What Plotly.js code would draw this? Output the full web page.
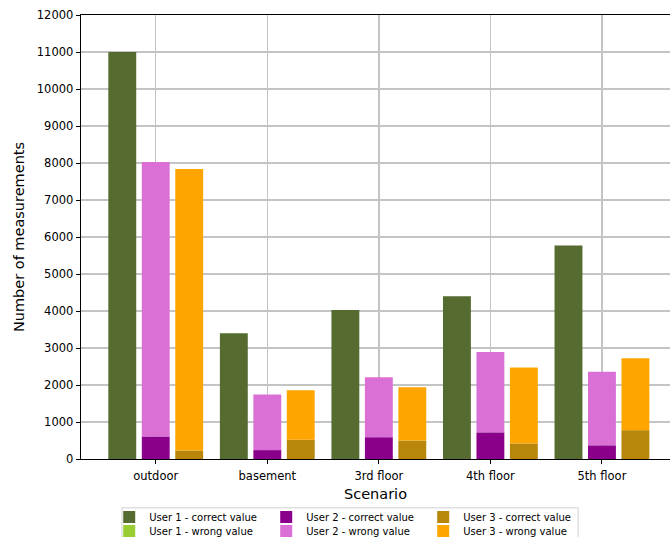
<!DOCTYPE html>
<html>
<head>
<meta charset="utf-8">
<script src="https://cdn.plot.ly/plotly-3.0.1.min.js"></script>
<style>html,body{margin:0;padding:0;overflow:hidden;background:#fff}</style>
</head>
<body>
<div id="chart" style="width:670px;height:537px"></div>
<script>
const scenarios = ["outdoor", "basement", "3rd floor", "4th floor", "5th floor"];
const user1Correct = [11000, 3400, 4030, 4400, 5770];
const user1Wrong   = [0, 0, 0, 0, 0];
const user2Correct = [610, 240, 590, 720, 370];
const user2Wrong   = [7420, 1500, 1620, 2170, 1990];
const user3Correct = [230, 520, 500, 420, 780];
const user3Wrong   = [7610, 1335, 1440, 2050, 1940];

const W = 0.25;
function bar(name, y, base, color, offset, rank, legend) {
  const t = {
    type: "bar", name: name, x: scenarios, y: y,
    width: W, offset: offset,
    marker: {color: color, line: {width: 0}},
    legendrank: rank, legend: legend,
    hoverinfo: "x+y+name"
  };
  if (base) t.base = base;
  return t;
}
const data = [
  bar("User 1 - correct value", user1Correct, null, "#556B2F", -0.425, 1, "legend"),
  bar("User 2 - correct value", user2Correct, null, "#8B008B", -0.125, 2, "legend"),
  bar("User 3 - correct value", user3Correct, null, "#B8860B", 0.175, 3, "legend"),
  bar("User 1 - wrong value", user1Wrong, user1Correct, "#9ACD32", -0.425, 4, "legend2"),
  bar("User 2 - wrong value", user2Wrong, user2Correct, "#DA70D6", -0.125, 5, "legend2"),
  bar("User 3 - wrong value", user3Wrong, user3Correct, "#FFA500", 0.175, 6, "legend2")
];

const legendCommon = {
  orientation: "h",
  xref: "container", x: 0.163, xanchor: "left",
  yref: "container", yanchor: "middle",
  entrywidth: 112, entrywidthmode: "pixels",
  font: {family: "DejaVu Sans", size: 10, color: "#000"},
  borderwidth: 0, bgcolor: "rgba(0,0,0,0)",
  traceorder: "normal", itemwidth: 30
};

const layout = {
  width: 670, height: 537,
  margin: {l: 81, r: 0, t: 15, b: 78},
  barmode: "overlay",
  paper_bgcolor: "#fff", plot_bgcolor: "#fff",
  font: {family: "DejaVu Sans", size: 11.5, color: "#000"},
  showlegend: true,
  xaxis: {
    type: "category", range: [-0.67, 4.61],
    showgrid: true, gridcolor: "#c4c4c4", gridwidth: 1.5,
    showline: true, linecolor: "#000", linewidth: 1.3, mirror: true,
    ticks: "outside", ticklen: 4, tickcolor: "#000", tickwidth: 1,
    ticklabelstandoff: 2,
    tickfont: {family: "DejaVu Sans", size: 11.5, color: "#000"},
    title: {text: "Scenario", font: {family: "DejaVu Sans", size: 14.5, color: "#000"}, standoff: 6},
    zeroline: false
  },
  yaxis: {
    range: [0, 12000], dtick: 1000, tickformat: "d",
    showgrid: true, gridcolor: "#c4c4c4", gridwidth: 1.5,
    showline: true, linecolor: "#000", linewidth: 1.3,
    ticks: "outside", ticklen: 4, tickcolor: "#000", tickwidth: 1,
    tickfont: {family: "DejaVu Sans", size: 11.5, color: "#000"},
    title: {text: "Number of measurements", font: {family: "DejaVu Sans", size: 14.5, color: "#000"}, standoff: 8},
    zeroline: false
  },
  legend: Object.assign({}, legendCommon, {y: 0.0372}),
  legend2: Object.assign({}, legendCommon, {y: 0.0112}),
  shapes: [{
    type: "rect", xref: "paper", yref: "paper",
    x0: 0.0696, x1: 0.844, y0: -0.110, y1: -0.25,
    line: {color: "#d0d0d0", width: 1}, fillcolor: "#fff", layer: "below"
  }]
};
Plotly.newPlot("chart", data, layout, {displayModeBar: false, staticPlot: true});
</script>
</body>
</html>
